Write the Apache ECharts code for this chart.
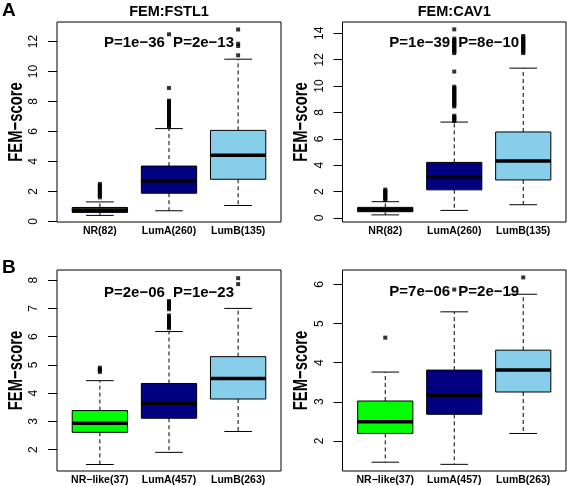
<!DOCTYPE html>
<html><head><meta charset="utf-8">
<script src="https://cdn.jsdelivr.net/npm/echarts@6/dist/echarts.min.js"></script>
<style>html,body{margin:0;padding:0;background:#fff}#c{width:567px;height:486px}</style>
</head><body><div id="c"></div>
<script>
// ---------- data ----------
const groupsA = ['NR(82)', 'LumA(260)', 'LumB(135)'];
const groupsB = ['NR\u2212like(37)', 'LumA(457)', 'LumB(263)'];
const colorsA = ['#55551f', '#000080', '#87CEEB'];
const colorsB = ['#00FF00', '#000080', '#87CEEB'];

// box stats: [lower whisker, Q1, median, Q3, upper whisker]
const fstl1Box = [[0.40, 0.60, 0.75, 0.93, 1.30], [0.71, 1.88, 2.70, 3.69, 6.19], [1.06, 2.81, 4.42, 6.07, 10.82]];
const fstl1Out = [
  [1.6, 1.7, 1.8, 1.9, 2.0, 2.1, 2.2, 2.3, 2.4, 2.5],
  [6.3, 6.4, 6.5, 6.6, 6.7, 6.8, 6.9, 7.0, 7.1, 7.2, 7.3, 7.4, 7.5, 7.6, 7.7, 7.8, 7.9, 8.0, 8.05, 8.9, 12.48],
  [11.08, 11.7, 11.85, 12.8]
];
const fstl1P = ['P=1e\u221236', 'P=2e\u221213'];
const fstl1PY = 11.92;
const fstl1Ticks = [0, 2, 4, 6, 8, 10, 12];
const fstl1Range = [-0.04, 13.3];

const cav1Box = [[0.23, 0.47, 0.62, 0.80, 1.23], [0.57, 2.13, 3.13, 4.21, 7.27], [1.00, 2.88, 4.31, 6.52, 11.36]];
const cav1Out = [
  [1.35, 1.45, 1.55, 1.65, 1.75, 1.85, 1.95, 2.05, 2.15],
  [7.35, 7.45, 7.55, 7.65, 7.75, 8.45, 8.55, 8.65, 8.75, 8.85, 8.95, 9.05, 9.15, 9.25, 9.35, 9.45, 9.55, 9.65, 9.75, 9.85, 9.95, 11.1, 12.5, 12.6, 12.7, 12.8, 12.9, 13.0, 13.1, 13.2, 13.3, 13.4, 13.5, 13.6, 14.3],
  [12.5, 12.6, 12.7, 12.8, 12.9, 13.0, 13.1, 13.2, 13.3, 13.4, 13.5, 13.6, 13.7, 13.8]
];
const cav1P = ['P=1e\u221239', 'P=8e\u221210'];
const cav1PY = 13.29;
const cav1Ticks = [0, 2, 4, 6, 8, 10, 12, 14];
const cav1Range = [-0.31, 14.86];

const bLeftBox = [[1.47, 2.61, 2.93, 3.38, 4.44], [1.90, 3.11, 3.64, 4.34, 6.18], [2.64, 3.79, 4.52, 5.29, 7.00]];
const bLeftOut = [
  [4.75, 4.8, 4.85, 4.9],
  [6.3, 6.35, 6.4, 6.45, 6.5, 6.55, 6.6, 6.65, 6.7, 6.75, 6.97, 7.02, 7.07, 7.12, 7.17, 7.22, 7.26],
  [7.86, 8.07]
];
const bLeftP = ['P=2e\u221206', 'P=1e\u221223'];
const bLeftPY = 7.56;
const bLeftTicks = [2, 3, 4, 5, 6, 7, 8];
const bLeftRange = [1.24, 8.36];

const bRightBox = [[1.455, 2.19, 2.49, 3.02, 3.76], [1.40, 2.68, 3.17, 3.81, 5.30], [2.19, 3.25, 3.81, 4.32, 5.75]];
const bRightOut = [[4.64], [5.87], [6.18]];
const bRightP = ['P=7e\u221206', 'P=2e\u221219'];
const bRightPY = 5.82;
const bRightTicks = [2, 3, 4, 5, 6];
const bRightRange = [1.23, 6.37];

// ---------- chart ----------
const FONT = '"Liberation Sans", Arial, Helvetica, sans-serif';
const panels = [
  {grid: {left: 57, top: 22, width: 224, height: 200}, groups: groupsA, box: fstl1Box, out: fstl1Out, p: fstl1P, py: fstl1PY, ticks: fstl1Ticks, range: fstl1Range, colors: colorsA, title: 'FEM:FSTL1'},
  {grid: {left: 342.5, top: 22, width: 223.5, height: 200}, groups: groupsA, box: cav1Box, out: cav1Out, p: cav1P, py: cav1PY, ticks: cav1Ticks, range: cav1Range, colors: colorsA, title: 'FEM:CAV1'},
  {grid: {left: 57, top: 270, width: 224, height: 201}, groups: groupsB, box: bLeftBox, out: bLeftOut, p: bLeftP, py: bLeftPY, ticks: bLeftTicks, range: bLeftRange, colors: colorsB, title: null},
  {grid: {left: 342.5, top: 270, width: 223.5, height: 201}, groups: groupsB, box: bRightBox, out: bRightOut, p: bRightP, py: bRightPY, ticks: bRightTicks, range: bRightRange, colors: colorsB, title: null}
];

function makeRender(colors) {
  return function (params, api) {
    const x = api.value(0);
    const lo = api.value(1), q1 = api.value(2), md = api.value(3), q3 = api.value(4), hi = api.value(5);
    const cx = api.coord([x, md])[0];
    const tl = api.coord([x - 0.4, q3]);
    const br = api.coord([x + 0.4, q1]);
    const capL = api.coord([x - 0.2, hi])[0], capR = api.coord([x + 0.2, hi])[0];
    const yLo = api.coord([x, lo])[1], yHi = api.coord([x, hi])[1], yMd = api.coord([x, md])[1];
    const dash = {stroke: '#000', lineWidth: 1, lineDash: [4, 3], fill: null};
    const solid = {stroke: '#000', lineWidth: 1, fill: null};
    return {type: 'group', children: [
      {type: 'line', shape: {x1: cx, y1: tl[1], x2: cx, y2: yHi}, style: dash},
      {type: 'line', shape: {x1: cx, y1: br[1], x2: cx, y2: yLo}, style: dash},
      {type: 'line', shape: {x1: capL, y1: yHi, x2: capR, y2: yHi}, style: solid},
      {type: 'line', shape: {x1: capL, y1: yLo, x2: capR, y2: yLo}, style: solid},
      {type: 'rect', shape: {x: tl[0], y: tl[1], width: br[0] - tl[0], height: br[1] - tl[1]},
        style: {fill: colors[params.dataIndex], stroke: '#000', lineWidth: 1}},
      {type: 'line', shape: {x1: tl[0], y1: yMd, x2: br[0], y2: yMd}, style: {stroke: '#000', lineWidth: 3.5}}
    ]};
  };
}

const grids = [], xAxes = [], yAxes = [], series = [], graphics = [];
panels.forEach((pn, k) => {
  grids.push(Object.assign({show: true, borderColor: '#000', borderWidth: 1, backgroundColor: 'transparent'}, pn.grid));
  xAxes.push({
    type: 'value', gridIndex: k, min: 0.38, max: 3.62,
    axisLine: {show: false}, axisTick: {show: false}, splitLine: {show: false},
    axisLabel: {
      customValues: [1, 2, 3], formatter: v => pn.groups[Math.round(v) - 1] || '',
      fontFamily: FONT, fontWeight: 'bold', fontSize: 10.5, color: '#000', margin: 4
    }
  });
  yAxes.push({
    type: 'value', gridIndex: k, min: pn.range[0], max: pn.range[1],
    axisLine: {show: false}, splitLine: {show: false},
    axisTick: {show: true, customValues: pn.ticks, length: 9, lineStyle: {color: '#000', width: 1}},
    axisLabel: {customValues: pn.ticks, rotate: 90, fontFamily: FONT, fontSize: 12, color: '#000', margin: 17}
  });
  series.push({
    type: 'custom', xAxisIndex: k, yAxisIndex: k, renderItem: makeRender(pn.colors),
    data: pn.box.map((s, i) => [i + 1].concat(s)), encode: {x: 0, y: [1, 2, 3, 4, 5]}, z: 2, silent: true
  });
  const pts = [];
  pn.out.forEach((arr, i) => arr.forEach(v => pts.push([i + 1, v])));
  series.push({
    type: 'scatter', xAxisIndex: k, yAxisIndex: k, data: pts, symbol: 'rect', symbolSize: 4,
    itemStyle: {color: '#000'}, z: 3, silent: true
  });
  series.push({
    type: 'scatter', xAxisIndex: k, yAxisIndex: k, symbolSize: 1, itemStyle: {color: 'transparent'},
    data: [{value: [1.5, pn.py], name: pn.p[0]}, {value: [2.5, pn.py], name: pn.p[1]}],
    label: {show: true, position: 'inside', formatter: '{b}', fontFamily: FONT, fontWeight: 'bold', fontSize: 15,
      color: '#000', textBorderWidth: 0, opacity: 1},
    z: 4, silent: true
  });
  const g = pn.grid;
  graphics.push({
    type: 'text', x: g.left - 41, y: g.top + g.height / 2, rotation: Math.PI / 2, scaleX: 0.74,
    style: {text: 'FEM\u2212score', font: 'bold 20px ' + FONT, align: 'center', verticalAlign: 'middle', fill: '#000'}
  });
  if (pn.title) {
    graphics.push({
      type: 'text', x: g.left + g.width / 2, y: 12,
      style: {text: pn.title, font: 'bold 14.5px ' + FONT, align: 'center', verticalAlign: 'middle', fill: '#000'}
    });
  }
});
graphics.push({type: 'text', x: 2, y: 1, style: {text: 'A', font: 'bold 19px ' + FONT, fill: '#000'}});
graphics.push({type: 'text', x: 2, y: 258, style: {text: 'B', font: 'bold 19px ' + FONT, fill: '#000'}});

const chart = echarts.init(document.getElementById('c'), null, {renderer: 'canvas'});
chart.setOption({
  animation: false,
  backgroundColor: '#fff',
  grid: grids, xAxis: xAxes, yAxis: yAxes, series: series, graphic: graphics
});
</script></body></html>
